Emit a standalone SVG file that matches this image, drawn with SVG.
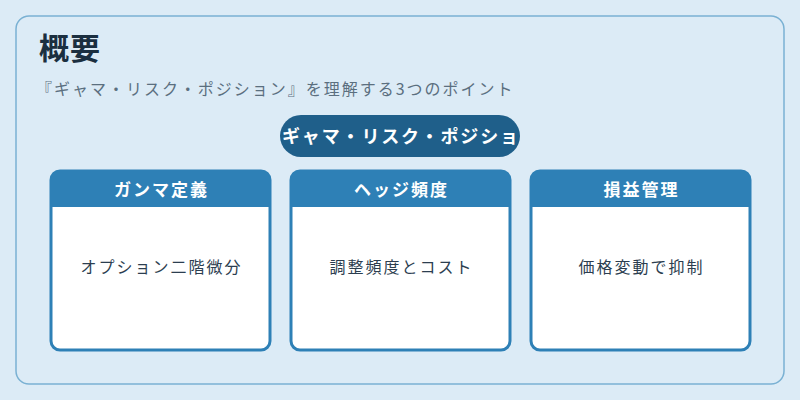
<svg xmlns="http://www.w3.org/2000/svg" width="800" height="400" viewBox="0 0 800 400">
<style>
text{font-family:"Noto Sans CJK JP","Noto Sans",sans-serif}
.card{fill:#ffffff;stroke:#2e80b6;stroke-width:3}
.hdr{fill:#2e80b6}
.ht{fill:#ffffff;font-size:17px;font-weight:bold;text-anchor:middle;letter-spacing:2px}
.bt{fill:#2c3e50;font-size:16px;text-anchor:middle;letter-spacing:2px}
</style>
<defs>
<clipPath id="c1"><rect x="51" y="171" width="219" height="179" rx="9"/></clipPath>
<clipPath id="c2"><rect x="291" y="171" width="219" height="179" rx="9"/></clipPath>
<clipPath id="c3"><rect x="531" y="171" width="219" height="179" rx="9"/></clipPath>
<clipPath id="cp"><rect x="280" y="115" width="240" height="42" rx="21"/></clipPath>
</defs>
<rect width="800" height="400" fill="#dcebf6"/>
<rect x="16" y="16" width="768" height="368" rx="13" fill="#dcebf6" stroke="#7ab1d3" stroke-width="1.5"/>
<text x="39" y="59" font-size="30" font-weight="bold" fill="#1b2f40" letter-spacing="1">概要</text>
<text x="36" y="95" font-size="16" fill="#5b6f7f" letter-spacing="2">『ギャマ・リスク・ポジション』を理解する3つのポイント</text>
<g id="pill">
<rect x="280" y="115" width="240" height="42" rx="21" fill="#1f5f8a"/>
<text x="282" y="143" font-size="18" font-weight="bold" fill="#ffffff" textLength="236" lengthAdjust="spacing" clip-path="url(#cp)">ギャマ・リスク・ポジショ</text>
</g>
<g id="card1">
<rect class="card" x="51" y="171" width="219" height="179" rx="9"/>
<rect class="hdr" x="51" y="171" width="219" height="36" clip-path="url(#c1)"/>
<text class="ht" x="161.5" y="196">ガンマ定義</text>
<text class="bt" x="161.5" y="273">オプション二階微分</text>
</g>
<g id="card2">
<rect class="card" x="291" y="171" width="219" height="179" rx="9"/>
<rect class="hdr" x="291" y="171" width="219" height="36" clip-path="url(#c2)"/>
<text class="ht" x="401.5" y="196">ヘッジ頻度</text>
<text class="bt" x="401.5" y="273">調整頻度とコスト</text>
</g>
<g id="card3">
<rect class="card" x="531" y="171" width="219" height="179" rx="9"/>
<rect class="hdr" x="531" y="171" width="219" height="36" clip-path="url(#c3)"/>
<text class="ht" x="641.5" y="196">損益管理</text>
<text class="bt" x="641.5" y="273">価格変動で抑制</text>
</g>
<g id="connectors"></g>
</svg>
